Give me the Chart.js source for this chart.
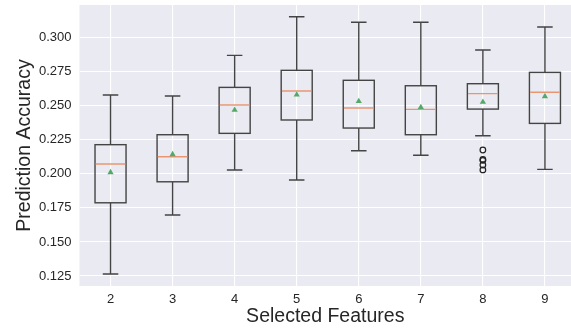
<!DOCTYPE html>
<html>
<head>
<meta charset="utf-8">
<script src="https://cdn.jsdelivr.net/npm/chart.js@4.4.1/dist/chart.umd.min.js"></script>
<style>
  html, body { margin: 0; padding: 0; background: #ffffff; }
  #wrap { width: 571px; height: 330px; }
</style>
</head>
<body>
<div id="wrap"><canvas id="boxChart" width="571" height="330"></canvas></div>
<script>
// ---- data ----
const features    = [2, 3, 4, 5, 6, 7, 8, 9];
const whiskerLow  = [0.1265, 0.1697, 0.2027, 0.1954, 0.2169, 0.2135, 0.2279, 0.2032];
const q1          = [0.1787, 0.1941, 0.2296, 0.2394, 0.2335, 0.2286, 0.2474, 0.2369];
const medians     = [0.2071, 0.2125, 0.2504, 0.2606, 0.2482, 0.2472, 0.2587, 0.2597];
const q3          = [0.2213, 0.2286, 0.2633, 0.2758, 0.2685, 0.2645, 0.2660, 0.2743];
const whiskerHigh = [0.2577, 0.2570, 0.2868, 0.3151, 0.3110, 0.3110, 0.2907, 0.3076];
const means       = [0.2010, 0.2142, 0.2467, 0.2579, 0.2531, 0.2487, 0.2526, 0.2567];
const outlierFeature = [8, 8, 8, 8, 8];
const outlierValues  = [0.2174, 0.2105, 0.2098, 0.2064, 0.2028];
const yTicks = [0.125, 0.150, 0.175, 0.200, 0.225, 0.250, 0.275, 0.300];

// ---- style ----
const palette = {
    panel:   '#EAEAF2',
    grid:    '#ffffff',
    box:     '#444444',
    median:  '#E99670',
    mean:    '#55A868',
    text:    '#262626',
};
const BOX_HALF = 0.25;
const CAP_HALF = 0.125;

Chart.defaults.font.family = "'Liberation Sans', Arial, sans-serif";
Chart.defaults.color = palette.text;

// ---- panel background ----
const panelPlugin = {
    id: 'panel',
    beforeDraw(chart) {
        const {ctx, chartArea: a} = chart;
        ctx.save();
        ctx.fillStyle = palette.panel;
        ctx.fillRect(a.left, a.top, a.right - a.left, a.bottom - a.top);
        ctx.restore();
    }
};

// ---- boxes, whiskers, medians ----
const boxPlugin = {
    id: 'boxes',
    beforeDatasetsDraw(chart) {
        const {ctx, chartArea: a, scales: {x, y}} = chart;
        ctx.save();
        ctx.beginPath();
        ctx.rect(a.left, a.top, a.right - a.left, a.bottom - a.top);
        ctx.clip();
        features.forEach((f, i) => {
            const xc = x.getPixelForValue(f);
            const xl = x.getPixelForValue(f - BOX_HALF);
            const xr = x.getPixelForValue(f + BOX_HALF);
            const cl = x.getPixelForValue(f - CAP_HALF);
            const cr = x.getPixelForValue(f + CAP_HALF);
            const yLo = y.getPixelForValue(whiskerLow[i]);
            const yQ1 = y.getPixelForValue(q1[i]);
            const yMed = y.getPixelForValue(medians[i]);
            const yQ3 = y.getPixelForValue(q3[i]);
            const yHi = y.getPixelForValue(whiskerHigh[i]);

            ctx.strokeStyle = palette.box;
            ctx.lineWidth = 1.4;
            ctx.strokeRect(xl, yQ3, xr - xl, yQ1 - yQ3);

            ctx.beginPath();
            ctx.moveTo(xc, yQ3); ctx.lineTo(xc, yHi);
            ctx.moveTo(xc, yQ1); ctx.lineTo(xc, yLo);
            ctx.moveTo(cl, yHi); ctx.lineTo(cr, yHi);
            ctx.moveTo(cl, yLo); ctx.lineTo(cr, yLo);
            ctx.stroke();

            ctx.strokeStyle = palette.median;
            ctx.lineWidth = 1.4;
            ctx.beginPath();
            ctx.moveTo(xl + 0.7, yMed); ctx.lineTo(xr - 0.7, yMed);
            ctx.stroke();
        });
        ctx.restore();
    }
};

// drop the label-overflow padding so the panel reaches the edges like the reference
const noEdgePad = s => {
    s.paddingTop = 0; s.paddingBottom = 0;
    s.paddingLeft = 0; s.paddingRight = 0;
};

new Chart(document.getElementById('boxChart').getContext('2d'), {
    type: 'scatter',
    data: {
        datasets: [
            {
                label: 'Mean',
                data: features.map((f, i) => ({x: f, y: means[i]})),
                pointStyle: 'triangle',
                pointRadius: 3.6,
                backgroundColor: palette.mean,
                borderColor: palette.mean,
                borderWidth: 0,
            },
            {
                label: 'Outliers',
                data: outlierFeature.map((f, i) => ({x: f, y: outlierValues[i]})),
                pointStyle: 'circle',
                pointRadius: 2.8,
                backgroundColor: 'rgba(0,0,0,0)',
                borderColor: '#222222',
                borderWidth: 1.2,
            }
        ]
    },
    options: {
        responsive: false,
        animation: false,
        devicePixelRatio: 1,
        layout: { autoPadding: false, padding: { top: 5, right: 0, bottom: 0, left: 0 } },
        plugins: {
            legend: { display: false },
            tooltip: { enabled: false },
        },
        scales: {
            x: {
                type: 'linear',
                min: 1.5,
                max: 9.42,
                afterBuildTicks: s => { s.ticks = features.map(v => ({value: v})); },
                afterFit: s => { s.height = 44; noEdgePad(s); },
                ticks: {
                    font: { size: 13 },
                    color: palette.text,
                    padding: 6,
                    callback: v => String(v),
                },
                grid: { color: palette.grid, lineWidth: 1.1, drawTicks: false },
                border: { display: false },
                title: {
                    display: true,
                    text: 'Selected Features',
                    font: { size: 19.5 },
                    color: palette.text,
                    padding: { top: 0, bottom: 2 },
                },
            },
            y: {
                type: 'linear',
                min: 0.1177,
                max: 0.3237,
                afterBuildTicks: s => { s.ticks = yTicks.map(v => ({value: v})); },
                afterFit: s => { s.width = 79.5; noEdgePad(s); },
                ticks: {
                    font: { size: 13 },
                    color: palette.text,
                    padding: 8,
                    callback: v => v.toFixed(3),
                },
                grid: { color: palette.grid, lineWidth: 1.1, drawTicks: false },
                border: { display: false },
                title: {
                    display: true,
                    text: 'Prediction Accuracy',
                    font: { size: 19.5 },
                    color: palette.text,
                    padding: { top: 13, bottom: 0 },
                },
            }
        }
    },
    plugins: [panelPlugin, boxPlugin]
});
</script>
</body>
</html>
